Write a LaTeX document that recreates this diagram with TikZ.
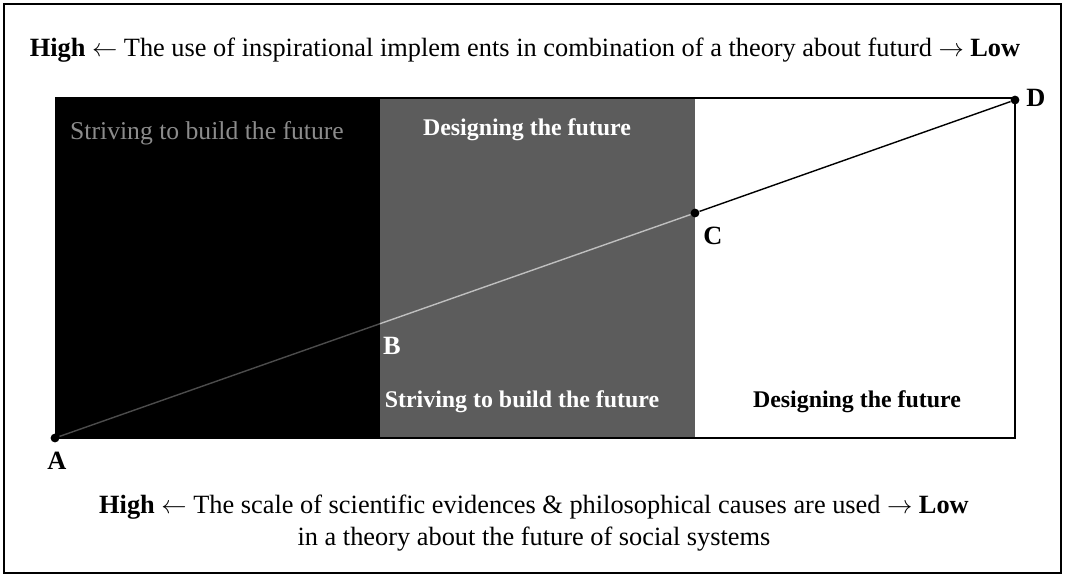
\documentclass[tikz,border=0pt]{standalone}
\usepackage{fontspec}
\setmainfont{Liberation Serif}
\usetikzlibrary{positioning}

\begin{document}
\begin{tikzpicture}[
    x=0.02cm, y=-0.02cm,
    font=\fontsize{13}{15}\selectfont,
    dot/.style={circle, fill=black, inner sep=0pt, minimum size=5pt},
    ptlabel/.style={font=\fontsize{15}{17}\selectfont\bfseries, inner sep=1pt},
    zonetext/.style={font=\fontsize{13.6}{15}\selectfont\bfseries, inner sep=0pt},
    axistext/.style={align=center, font=\fontsize{15}{17}\selectfont}
]
\useasboundingbox (0,0) rectangle (1066,578);

% Frame and zones
\draw[line width=1pt] (4,4) rectangle (1061,573);
\fill[black] (55,98) rectangle (380,438);
\fill[black!64] (380,98) rectangle (695,438);
\draw[line width=1.6pt] (55,98) -- (1015,98) -- (1015,438) -- (55,438);

% Nodes
\node (A) [dot] at (55,438) {};
\coordinate (B) at (380,323.7);
\node (C) [dot] at (695,213) {};
\node (D) [dot] at (1015,100) {};

\node (labA) [ptlabel] at (57,461) {A};
\node (labB) [ptlabel, text=white] at (392,346) {B};
\node (labC) [ptlabel] at (713,236) {C};
\node (labD) [ptlabel] at (1036,98) {D};

\node (top) [axistext] at (525,50) {\textbf{High} $\leftarrow$ The use of inspirational implem ents in combination of a theory about futurd $\rightarrow$ \textbf{Low}};
\node (bottom) [axistext] at (534,523) {\textbf{High} $\leftarrow$ The scale of scientific evidences \& philosophical causes are used $\rightarrow$ \textbf{Low}\\[1pt]in a theory about the future of social systems};

\node (strive1) [zonetext, font=\fontsize{14.6}{16}\selectfont, text=black!45] at (207,133) {Striving to build the future};
\node (design1) [zonetext, text=white] at (527,130) {Designing the future};
\node (strive2) [zonetext, text=white] at (522,402) {Striving to build the future};
\node (design2) [zonetext] at (857,402) {Designing the future};

% Paths
\draw [black!70, line width=0.8pt] (A) -- (B);
\draw [black!25, line width=0.8pt] (B) -- (C);
\draw [line width=0.8pt] (C) -- (D);

\end{tikzpicture}
\end{document}
